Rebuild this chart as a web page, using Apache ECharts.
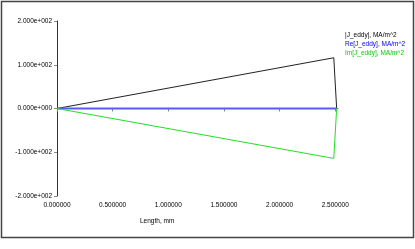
<!DOCTYPE html>
<html><head><meta charset="utf-8">
<script src="https://cdn.jsdelivr.net/npm/echarts@6/dist/echarts.min.js"></script>
<style>html,body{margin:0;padding:0;background:#fff}#c{width:415px;height:249px}</style>
</head><body><div id="c"></div>
<script>
// data
var absX = [0, 2.487, 2.513];
var absY = [0, 116, 0];
var reX = [0, 2.513];
var reY = [0, 0];
var imX = [0, 2.487, 2.513];
var imY = [0, -114, 0];
var seriesNames = ['|J_eddy|, MA/m^2', 'Re[J_eddy], MA/m^2', 'Im[J_eddy], MA/m^2'];
var seriesColors = ['#000000', '#0000ff', '#00d000'];
var xTicks = [0, 0.5, 1.0, 1.5, 2.0, 2.5];
var xTitle = 'Length, mm';

function pairs(xs, ys){ return xs.map(function(x,i){return [x, ys[i]];}); }
function expFmt(v){
  if (v === 0) return '0.000e+000';
  var s = Math.abs(v).toExponential(3).split('e');
  var e = parseInt(s[1],10);
  var es = (e<0?'-':'+') + String(Math.abs(e)).padStart(3,'0');
  return (v<0?'-':'') + s[0] + 'e' + es;
}
var font = 'Liberation Sans, Arial, sans-serif';
var legendTexts = seriesNames.map(function(n,i){
  return {type:'text', left:345, top:32 + i*9, style:{text:n, fontSize:6.5, fontFamily:font, fill:seriesColors[i]}};
});
var chart = echarts.init(document.getElementById('c'), null, {renderer:'canvas'});
chart.setOption({
  animation:false,
  backgroundColor:'#fff',
  grid:{left:57, right:77, top:21, bottom:53, containLabel:false},
  xAxis:{type:'value', min:0, max:2.525,
    axisLine:{lineStyle:{color:'#888', width:1}},
    axisTick:{customValues:xTicks, length:3, lineStyle:{color:'#888'}},
    axisLabel:{customValues:xTicks, formatter:function(v){return v.toFixed(6);}, fontSize:6.5, fontFamily:font, color:'#000', margin:6},
    splitLine:{show:false}},
  yAxis:{type:'value', min:-200, max:200, interval:100,
    axisLine:{show:true, lineStyle:{color:'#333', width:1}},
    axisTick:{show:true, length:3, lineStyle:{color:'#888'}},
    axisLabel:{formatter:expFmt, fontSize:6.5, fontFamily:font, color:'#000', margin:5},
    splitLine:{show:false}},
  graphic:[
    {type:'rect', shape:{x:1.5, y:1.5, width:412, height:236}, style:{fill:null, stroke:'#444', lineWidth:1.5}, z:-1},
    {type:'text', left:140, top:218, style:{text:xTitle, fontSize:6.5, fontFamily:font, fill:'#000'}}
  ].concat(legendTexts),
  series:[
    {name:seriesNames[0], type:'line', data:pairs(absX,absY), showSymbol:false, lineStyle:{color:'#222', width:1}},
    {name:seriesNames[1], type:'line', data:pairs(reX,reY), showSymbol:false, lineStyle:{color:'#5a5aff', width:2}},
    {name:seriesNames[2], type:'line', data:pairs(imX,imY), showSymbol:false, lineStyle:{color:'#22e022', width:1}}
  ]
});
</script></body></html>
